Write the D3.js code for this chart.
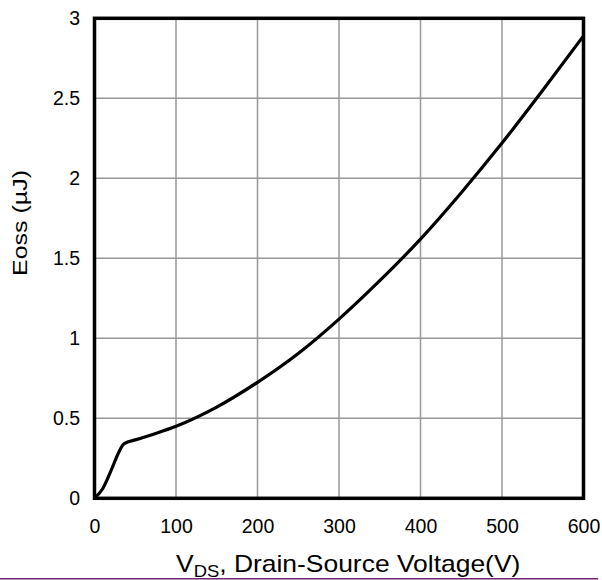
<!DOCTYPE html>
<html>
<head>
<meta charset="utf-8">
<script src="https://cdn.jsdelivr.net/npm/d3@7"></script>
<style>
  body { margin: 0; background: #fff; }
  svg { display: block; font-family: "Liberation Sans", Arial, sans-serif; }
</style>
</head>
<body>
<svg id="chart" width="602" height="580"></svg>
<script>
// Eoss vs VDS curve
const vds = [0, 10, 20, 30, 35, 40, 50, 75, 100, 150, 200, 250, 300, 350, 400, 450, 500, 550, 600];
const eoss = [0, 0.06, 0.17, 0.29, 0.335, 0.35, 0.365, 0.405, 0.45, 0.57, 0.725, 0.905, 1.12, 1.36, 1.62, 1.91, 2.22, 2.55, 2.89];
const xTicks = [0, 100, 200, 300, 400, 500, 600];
const yTicks = [0, 0.5, 1, 1.5, 2, 2.5, 3];

function drawChart() {
  const svg = d3.select("#chart");
  const baseWidth = 602;
  const baseHeight = 580;
  const margin = { top: 18.3, right: 18.5, bottom: 81.7, left: 94.5 };
  const chartWidth = baseWidth - margin.left - margin.right;
  const chartHeight = baseHeight - margin.top - margin.bottom;

  const g = svg.append("g")
    .attr("transform", `translate(${margin.left},${margin.top})`);

  const x = d3.scaleLinear().domain([0, 600]).range([0, chartWidth]);
  const y = d3.scaleLinear().domain([0, 3]).range([chartHeight, 0]);

  // Grid lines
  g.append("g")
    .selectAll("line")
    .data(xTicks)
    .enter()
    .append("line")
    .attr("x1", d => x(d))
    .attr("x2", d => x(d))
    .attr("y1", 0)
    .attr("y2", chartHeight)
    .attr("stroke", "#999")
    .attr("stroke-width", 1.5);

  g.append("g")
    .selectAll("line")
    .data(yTicks)
    .enter()
    .append("line")
    .attr("x1", 0)
    .attr("x2", chartWidth)
    .attr("y1", d => y(d))
    .attr("y2", d => y(d))
    .attr("stroke", "#999")
    .attr("stroke-width", 1.5);

  // Curve
  const points = vds.map((v, i) => [v, eoss[i]]);
  const line = d3.line()
    .x(d => x(d[0]))
    .y(d => y(d[1]))
    .curve(d3.curveMonotoneX);

  g.append("path")
    .datum(points)
    .attr("d", line)
    .attr("fill", "none")
    .attr("stroke", "black")
    .attr("stroke-width", 3.2)
    .attr("stroke-linejoin", "round");

  // Frame
  g.append("rect")
    .attr("x", 0)
    .attr("y", 0)
    .attr("width", chartWidth)
    .attr("height", chartHeight)
    .attr("fill", "none")
    .attr("stroke", "black")
    .attr("stroke-width", 3.5);

  // Axes (labels only)
  const xAxis = g.append("g")
    .attr("transform", `translate(0,${chartHeight})`)
    .call(d3.axisBottom(x).tickValues(xTicks).tickSize(0).tickPadding(21));
  xAxis.select(".domain").remove();
  xAxis.selectAll("text")
    .style("font-size", "19.5px")
    .style("font-family", "Liberation Sans, Arial, sans-serif")
    .attr("fill", "black");

  const yAxis = g.append("g")
    .call(d3.axisLeft(y).tickValues(yTicks).tickSize(0).tickPadding(14.5).tickFormat(d3.format("")));
  yAxis.select(".domain").remove();
  yAxis.selectAll("text")
    .style("font-size", "19.5px")
    .style("font-family", "Liberation Sans, Arial, sans-serif")
    .attr("fill", "black");

  // Axis titles (the reference text is a bit wide, so stretch it)
  const xTitle = svg.append("text")
    .attr("transform", "translate(176,572) scale(1.15,1)")
    .style("font-size", "23px")
    .attr("fill", "black");
  xTitle.append("tspan").text("V");
  xTitle.append("tspan").attr("dy", 5).style("font-size", "16px").text("DS");
  xTitle.append("tspan").attr("dy", -5).text(", Drain-Source Voltage(V)");

  svg.append("text")
    .attr("transform", "translate(27,223) rotate(-90)")
    .style("text-anchor", "middle")
    .style("font-size", "19.5px")
    .attr("textLength", 106)
    .attr("lengthAdjust", "spacingAndGlyphs")
    .attr("fill", "black")
    .text("Eoss (µJ)");

  // Bottom rule
  svg.append("line")
    .attr("x1", 0)
    .attr("x2", 598)
    .attr("y1", 578.8)
    .attr("y2", 578.8)
    .attr("stroke", "#7b1f7b")
    .attr("stroke-width", 1.5);
}

drawChart();
</script>
</body>
</html>
